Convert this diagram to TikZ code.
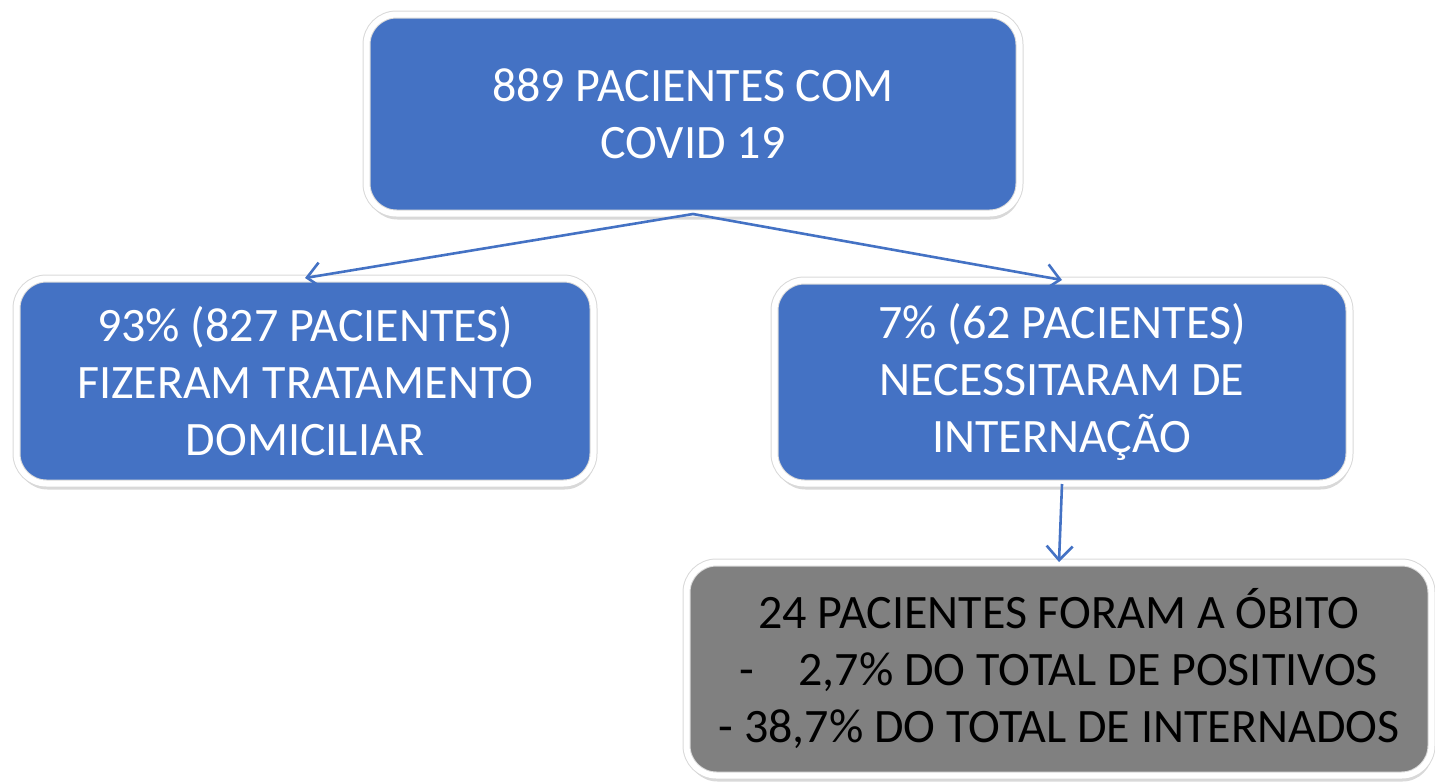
\documentclass[tikz,border=0pt]{standalone}
\usepackage{fontspec}
\setmainfont{Carlito}
\definecolor{boxblue}{RGB}{68,114,196}
\definecolor{boxgray}{RGB}{128,128,128}
\usetikzlibrary{arrows.meta, shadows}

\begin{document}
\begin{tikzpicture}[
    x=1pt, y=-1pt,
    every node/.style={font=\fontsize{48}{57}\selectfont, align=center},
    card/.style={rounded corners=30pt, draw=black!15, line width=1pt,
                 double=white, double distance=6pt,
                 fill=boxblue, text=white,
                 drop shadow={shadow xshift=1pt, shadow yshift=-6pt, opacity=0.3}},
    link/.style={draw=boxblue, line width=2.6pt,
                 -{Straight Barb[length=14pt, width=26pt, line width=2.6pt]}}
]
\useasboundingbox (0,0) rectangle (1435,782);
\node[card, minimum width=653pt, minimum height=199pt] (total) at (693,114) {889 PACIENTES COM\\COVID 19};
\node[card, minimum width=577pt, minimum height=205pt] (home) at (305,381) {93\% (827 PACIENTES)\\FIZERAM TRATAMENTO\\DOMICILIAR};
\node[card, minimum width=575pt, minimum height=203pt] (hosp) at (1062,382) {7\% (62 PACIENTES)\\NECESSITARAM DE\\INTERNAÇÃO};
\node[card, fill=boxgray, text=black, minimum width=745pt, minimum height=213pt] (death) at (1059,669) {24 PACIENTES FORAM A ÓBITO\\-\hspace{44pt}2,7\% DO TOTAL DE POSITIVOS\\- 38,7\% DO TOTAL DE INTERNADOS};
\draw[link] (total.south) -- (home.north);
\draw[link] (total.south) -- (hosp.north);
\draw[link] (hosp.south) -- (death.north);
\end{tikzpicture}
\end{document}
